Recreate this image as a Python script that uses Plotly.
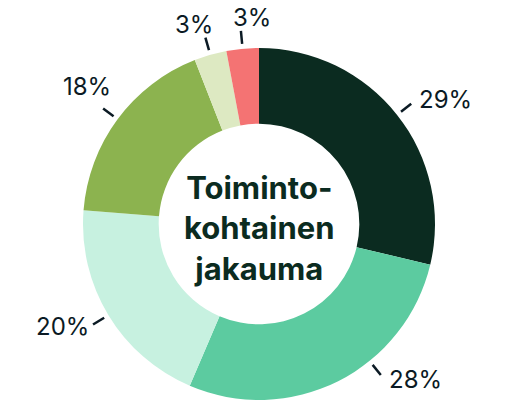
import math
import plotly.graph_objects as go

categories = ["A", "B", "C", "D", "E", "F"]
values = [29, 28, 20, 18, 3, 3]
labels = ["29%", "28%", "20%", "18%", "3%", "3%"]
colors = ["#0b2b20", "#5ccba0", "#c7f1e0", "#8cb34f", "#dde9c2", "#f47373"]
center_title = "Toiminto-<br>kohtainen<br>jakauma"

W, H = 520, 401
R = 176
ML, MT = 83, 48
MR = W - ML - 2 * R
MB = H - MT - 2 * R
CX, CY = ML + R, MT + R

fig = go.Figure(go.Pie(
    labels=categories, values=values, sort=False, direction="clockwise",
    rotation=0, hole=0.57, textinfo="none", hoverinfo="none",
    marker=dict(colors=colors, line=dict(width=0)), showlegend=False,
))

def to_paper(px, py):
    return (px - ML) / (W - ML - MR), 1 - (py - MT) / (H - MT - MB)

total = sum(values)
cum = 0
shapes, placed = [], []
r1, r2 = R + 5, R + 18
ymax = CY + 151
for v, lab in zip(values, labels):
    th = (cum + v / 2) / total * 2 * math.pi
    cum += v
    s, c = math.sin(th), math.cos(th)
    ye = CY - r2 * c
    if ye > ymax:
        c = -(ymax - CY) / r2
        s = math.copysign(math.sqrt(1 - c * c), s)
    x1, y1 = CX + r1 * s, CY - r1 * c
    x2, y2 = CX + r2 * s, CY - r2 * c
    p1, p2 = to_paper(x1, y1), to_paper(x2, y2)
    shapes.append(dict(type="line", xref="paper", yref="paper", x0=p1[0], y0=p1[1],
                       x1=p2[0], y1=p2[1], line=dict(color="#0b1a24", width=2.5)))
    if abs(s) < 0.35:
        placed.append([x2, y2 + 3, "center", "bottom", lab, True])
    elif s > 0:
        placed.append([x2 + 6, y2 - 4 if c > 0 else y2 + 4, "left", "middle", lab, False])
    elif c > 0.55:
        placed.append([x2 + 10, y2 - 6, "right", "bottom", lab, False])
    else:
        placed.append([x2 - 2, y2 + 2, "right", "middle", lab, False])

# spread top labels that would collide
tops = [p for p in placed if p[5]]
tops.sort(key=lambda p: p[0])
min_gap = 58
for a, b in zip(tops, tops[1:]):
    if b[0] - a[0] < min_gap:
        mid = (a[0] + b[0]) / 2
        a[0], b[0] = mid - min_gap / 2, mid + min_gap / 2

annotations = []
for tx, ty, xa, ya, lab, _ in placed:
    pt = to_paper(tx, ty)
    annotations.append(dict(x=pt[0], y=pt[1], xref="paper", yref="paper", text=lab,
                            showarrow=False, xanchor=xa, yanchor=ya,
                            font=dict(family="Inter", size=24, color="#0b1a24")))

annotations.append(dict(x=0.5, y=0.5, xref="paper", yref="paper", text="<b>" + center_title + "</b>",
                        showarrow=False, xanchor="center", yanchor="middle", yshift=-4,
                        font=dict(family="Inter", size=31, color="#0b2b20")))

fig.update_layout(
    width=W, height=H, margin=dict(l=ML, r=MR, t=MT, b=MB),
    paper_bgcolor="white", plot_bgcolor="white",
    shapes=shapes, annotations=annotations,
)
fig.write_html("out.html", config={"displayModeBar": False},
               post_script="document.body.style.margin='0';")
